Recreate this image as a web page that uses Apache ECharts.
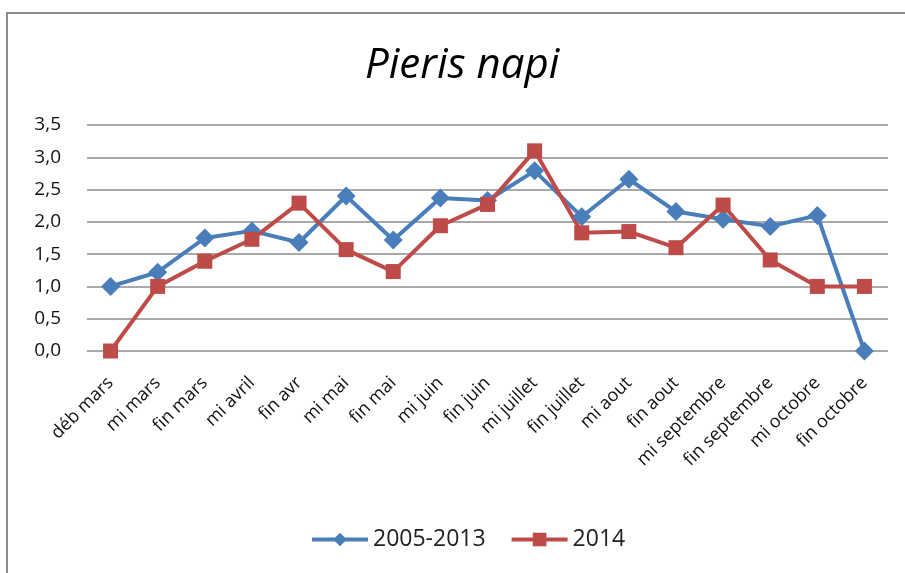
<!DOCTYPE html>
<html>
<head>
<meta charset="utf-8">
<script src="https://cdn.jsdelivr.net/npm/echarts@6/dist/echarts.min.js"></script>
<style>
html, body { margin: 0; padding: 0; background: #fff; }
#frame {
    position: absolute; left: 6px; top: 12px; width: 920px; height: 600px;
    border-left: 2px solid #8c8c8c; border-top: 2px solid #8c8c8c;
}
#chart { position: absolute; left: 0; top: 0; width: 905px; height: 573px; }
</style>
</head>
<body>
<div id="frame"></div>
<div id="chart"></div>
<script>
const categories = ['déb mars', 'mi mars', 'fin mars', 'mi avril', 'fin avr', 'mi mai', 'fin mai',
    'mi juin', 'fin juin', 'mi juillet', 'fin juillet', 'mi aout', 'fin aout',
    'mi septembre', 'fin septembre', 'mi octobre', 'fin octobre'];
const moyenne = [1.0, 1.22, 1.75, 1.86, 1.68, 2.4, 1.72, 2.37, 2.33, 2.79, 2.08, 2.66, 2.16, 2.04, 1.93, 2.1, 0];
const annee2014 = [0, 1.0, 1.39, 1.73, 2.29, 1.57, 1.23, 1.94, 2.27, 3.1, 1.83, 1.85, 1.6, 2.26, 1.41, 1.0, 1.0];

const font = 'Open Sans';
var myChart = echarts.init(document.getElementById('chart'));

var option = {
    animation: false,
    title: {
        text: 'Pieris napi',
        left: 360,
        top: 40,
        textStyle: { fontFamily: font, fontStyle: 'italic', fontWeight: 'normal', fontSize: 42, color: '#000' }
    },
    legend: {
        data: ['2005-2013', '2014'],
        bottom: 17,
        left: 305,
        itemWidth: 56,
        itemHeight: 17,
        itemGap: 24,
        lineStyle: { width: 4 },
        textStyle: { fontFamily: font, fontSize: 23, color: '#222' }
    },
    grid: { left: 87, right: 17, top: 125, bottom: 222, containLabel: false },
    xAxis: {
        type: 'category',
        data: categories,
        boundaryGap: true,
        axisLine: { show: false },
        axisTick: { show: false },
        axisLabel: { rotate: 45, interval: 0, margin: 29, fontFamily: font, fontSize: 18, color: '#111' }
    },
    yAxis: {
        type: 'value',
        min: 0,
        max: 3.5,
        interval: 0.5,
        axisLine: { show: false },
        axisTick: { show: false },
        splitLine: { lineStyle: { color: '#8c8c8c', width: 1.5 } },
        axisLabel: {
            margin: 26,
            fontFamily: font, fontSize: 19, color: '#111',
            formatter: function (v) { return v.toFixed(1).replace('.', ','); }
        }
    },
    series: [
        {
            name: '2005-2013',
            type: 'line',
            data: moyenne,
            symbol: 'diamond',
            symbolSize: 19,
            color: '#4a7ebb',
            lineStyle: { width: 4 }
        },
        {
            name: '2014',
            type: 'line',
            data: annee2014,
            symbol: 'rect',
            symbolSize: 15,
            color: '#be4b48',
            lineStyle: { width: 4 }
        }
    ]
};
myChart.setOption(option);
</script>
</body>
</html>
